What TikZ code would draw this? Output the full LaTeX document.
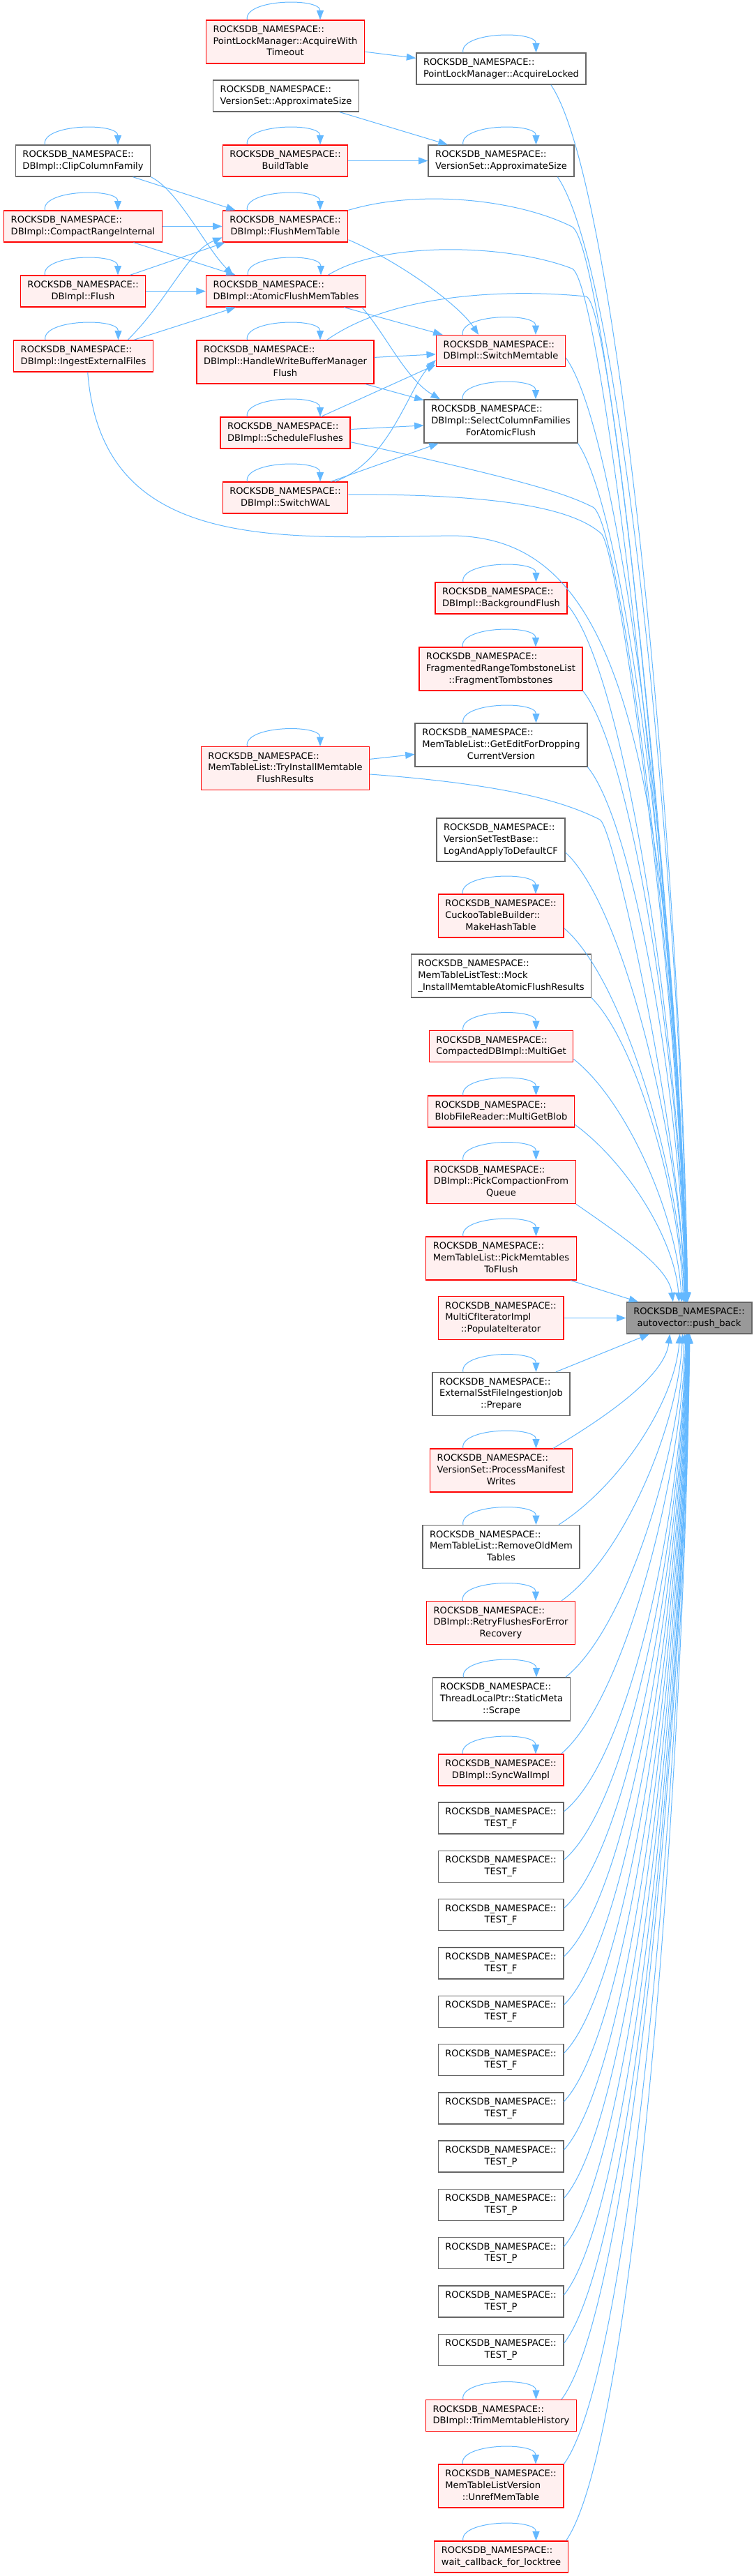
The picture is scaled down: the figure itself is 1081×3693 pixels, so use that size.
\documentclass[tikz,border=0pt]{standalone}
\usepackage{fontspec}
\setmainfont{DejaVu Sans}
\usetikzlibrary{arrows.meta}

\definecolor{edgeblue}{HTML}{63B8FF}
\definecolor{redfill}{HTML}{FFF0F0}
\definecolor{greyline}{HTML}{666666}
\definecolor{rootfill}{HTML}{999999}

\newcommand{\fnlabel}[2]{\begin{tabular}{@{}l@{}}ROCKSDB\_NAMESPACE::\\#1\multicolumn{1}{@{}c@{}}{#2}\end{tabular}}

\begin{document}
\begin{tikzpicture}[x=0.75pt, y=-0.75pt, every node/.style={font=\fontsize{9.8}{12.5}\selectfont}, >={Triangle[length=10pt, width=7.5pt]}, fnbox/.style={draw=greyline, fill=white, line width=1pt, inner xsep=7.6pt, inner ysep=3pt, minimum height=33.75pt}, truncbox/.style={fnbox, draw=red, fill=redfill}, rootbox/.style={fnbox, fill=rootfill}, tallbox/.style={minimum height=46.5pt}, call/.style={->, draw=edgeblue, line width=0.75pt}, selfloop/.style={to path={.. controls +(-5,-30) and +(0,-32) .. (\tikztotarget)}}]
	\fill[white] (0,0) rectangle (1081,3693);
	\useasboundingbox (0,0) rectangle (1081,3693);
	\node[truncbox, tallbox] (awt) at (409,60) {\fnlabel{PointLockManager::AcquireWith\\}{Timeout}};
	\node[fnbox] (alk) at (718.5,98.5) {\fnlabel{}{PointLockManager::AcquireLocked}};
	\node[fnbox] (as1) at (410,137.5) {\fnlabel{}{VersionSet::ApproximateSize}};
	\node[fnbox] (ccf) at (119,230.5) {\fnlabel{}{DBImpl::ClipColumnFamily}};
	\node[truncbox] (bt) at (409,230.5) {\fnlabel{}{BuildTable}};
	\node[fnbox] (as2) at (718.5,230.5) {\fnlabel{}{VersionSet::ApproximateSize}};
	\node[truncbox] (cri) at (119,324.5) {\fnlabel{}{DBImpl::CompactRangeInternal}};
	\node[truncbox] (fmt) at (409,324.5) {\fnlabel{}{DBImpl::FlushMemTable}};
	\node[truncbox] (fl) at (119,417.5) {\fnlabel{}{DBImpl::Flush}};
	\node[truncbox] (afmt) at (410,417.5) {\fnlabel{}{DBImpl::AtomicFlushMemTables}};
	\node[truncbox] (ief) at (119.5,510.5) {\fnlabel{}{DBImpl::IngestExternalFiles}};
	\node[truncbox, tallbox] (hwb) at (409,519) {\fnlabel{DBImpl::HandleWriteBufferManager\\}{Flush}};
	\node[truncbox] (swm) at (718,503) {\fnlabel{}{DBImpl::SwitchMemtable}};
	\node[fnbox, tallbox] (scf) at (718,604) {\fnlabel{DBImpl::SelectColumnFamilies\\}{ForAtomicFlush}};
	\node[truncbox] (sf) at (409,620.5) {\fnlabel{}{DBImpl::ScheduleFlushes}};
	\node[truncbox] (sw) at (409,713.5) {\fnlabel{}{DBImpl::SwitchWAL}};
	\node[truncbox] (bf) at (718.5,857.5) {\fnlabel{}{DBImpl::BackgroundFlush}};
	\node[truncbox, tallbox] (ft) at (718,959) {\fnlabel{FragmentedRangeTombstoneList\\}{::FragmentTombstones}};
	\node[fnbox, tallbox] (ged) at (718.5,1068) {\fnlabel{MemTableList::GetEditForDropping\\}{CurrentVersion}};
	\node[truncbox, tallbox] (tim) at (409,1101.5) {\fnlabel{MemTableList::TryInstallMemtable\\}{FlushResults}};
	\node[fnbox, tallbox] (laa) at (718,1204) {\fnlabel{VersionSetTestBase::\\}{LogAndApplyToDefaultCF}};
	\node[truncbox, tallbox] (mht) at (718,1313) {\fnlabel{CuckooTableBuilder::\\}{MakeHashTable}};
	\node[fnbox, tallbox] (mck) at (718.5,1399) {\fnlabel{MemTableListTest::Mock\\}{\_InstallMemtableAtomicFlushResults}};
	\node[truncbox] (mg) at (718.5,1500) {\fnlabel{}{CompactedDBImpl::MultiGet}};
	\node[truncbox] (mgb) at (718.5,1593.5) {\fnlabel{}{BlobFileReader::MultiGetBlob}};
	\node[truncbox, tallbox] (pcq) at (718.5,1694.5) {\fnlabel{DBImpl::PickCompactionFrom\\}{Queue}};
	\node[truncbox, tallbox] (pmf) at (718.5,1804) {\fnlabel{MemTableList::PickMemtables\\}{ToFlush}};
	\node[truncbox, tallbox] (pit) at (718,1889.5) {\fnlabel{MultiCfIteratorImpl\\}{::PopulateIterator}};
	\node[rootbox] (pb) at (988,1889.5) {\fnlabel{}{autovector::push\_back}};
	\node[fnbox, tallbox] (prp) at (718.5,1998.5) {\fnlabel{ExternalSstFileIngestionJob\\}{::Prepare}};
	\node[truncbox, tallbox] (pmw) at (718.5,2108) {\fnlabel{VersionSet::ProcessManifest\\}{Writes}};
	\node[fnbox, tallbox] (rom) at (718.5,2217.5) {\fnlabel{MemTableList::RemoveOldMem\\}{Tables}};
	\node[truncbox, tallbox] (rfe) at (718,2326.5) {\fnlabel{DBImpl::RetryFlushesForError\\}{Recovery}};
	\node[fnbox, tallbox] (scr) at (719,2436) {\fnlabel{ThreadLocalPtr::StaticMeta\\}{::Scrape}};
	\node[truncbox] (swi) at (718,2537.5) {\fnlabel{}{DBImpl::SyncWalImpl}};
	\node[fnbox] (tf1) at (718,2606.5) {\fnlabel{}{TEST\_F}};
	\node[fnbox] (tf2) at (718,2675.8) {\fnlabel{}{TEST\_F}};
	\node[fnbox] (tf3) at (718,2745.1) {\fnlabel{}{TEST\_F}};
	\node[fnbox] (tf4) at (718,2814.4) {\fnlabel{}{TEST\_F}};
	\node[fnbox] (tf5) at (718,2883.7) {\fnlabel{}{TEST\_F}};
	\node[fnbox] (tf6) at (718,2953.0) {\fnlabel{}{TEST\_F}};
	\node[fnbox] (tf7) at (718,3022.3) {\fnlabel{}{TEST\_F}};
	\node[fnbox] (tp1) at (718,3091.6) {\fnlabel{}{TEST\_P}};
	\node[fnbox] (tp2) at (718,3160.9) {\fnlabel{}{TEST\_P}};
	\node[fnbox] (tp3) at (718,3230.2) {\fnlabel{}{TEST\_P}};
	\node[fnbox] (tp4) at (718,3299.5) {\fnlabel{}{TEST\_P}};
	\node[fnbox] (tp5) at (718,3368.8) {\fnlabel{}{TEST\_P}};
	\node[truncbox] (tmh) at (718.5,3463) {\fnlabel{}{DBImpl::TrimMemtableHistory}};
	\node[truncbox, tallbox] (umt) at (718,3564) {\fnlabel{MemTableListVersion\\}{::UnrefMemTable}};
	\node[truncbox] (wcb) at (718.5,3665.5) {\fnlabel{}{wait\_callback\_for\_locktree}};
	% self calls
	\draw[call] ([xshift=-41pt]awt.north) to[selfloop] ([xshift=37.5pt]awt.north);
	\draw[call] ([xshift=-41pt]alk.north) to[selfloop] ([xshift=37.5pt]alk.north);
	\draw[call] ([xshift=-41pt]ccf.north) to[selfloop] ([xshift=37.5pt]ccf.north);
	\draw[call] ([xshift=-41pt]bt.north) to[selfloop] ([xshift=37.5pt]bt.north);
	\draw[call] ([xshift=-41pt]as2.north) to[selfloop] ([xshift=37.5pt]as2.north);
	\draw[call] ([xshift=-41pt]cri.north) to[selfloop] ([xshift=37.5pt]cri.north);
	\draw[call] ([xshift=-41pt]fmt.north) to[selfloop] ([xshift=37.5pt]fmt.north);
	\draw[call] ([xshift=-41pt]fl.north) to[selfloop] ([xshift=37.5pt]fl.north);
	\draw[call] ([xshift=-41pt]afmt.north) to[selfloop] ([xshift=37.5pt]afmt.north);
	\draw[call] ([xshift=-41pt]ief.north) to[selfloop] ([xshift=37.5pt]ief.north);
	\draw[call] ([xshift=-41pt]hwb.north) to[selfloop] ([xshift=37.5pt]hwb.north);
	\draw[call] ([xshift=-41pt]swm.north) to[selfloop] ([xshift=37.5pt]swm.north);
	\draw[call] ([xshift=-41pt]scf.north) to[selfloop] ([xshift=37.5pt]scf.north);
	\draw[call] ([xshift=-41pt]sf.north) to[selfloop] ([xshift=37.5pt]sf.north);
	\draw[call] ([xshift=-41pt]sw.north) to[selfloop] ([xshift=37.5pt]sw.north);
	\draw[call] ([xshift=-41pt]bf.north) to[selfloop] ([xshift=37.5pt]bf.north);
	\draw[call] ([xshift=-41pt]ft.north) to[selfloop] ([xshift=37.5pt]ft.north);
	\draw[call] ([xshift=-41pt]ged.north) to[selfloop] ([xshift=37.5pt]ged.north);
	\draw[call] ([xshift=-41pt]tim.north) to[selfloop] ([xshift=37.5pt]tim.north);
	\draw[call] ([xshift=-41pt]mht.north) to[selfloop] ([xshift=37.5pt]mht.north);
	\draw[call] ([xshift=-41pt]mg.north) to[selfloop] ([xshift=37.5pt]mg.north);
	\draw[call] ([xshift=-41pt]mgb.north) to[selfloop] ([xshift=37.5pt]mgb.north);
	\draw[call] ([xshift=-41pt]pcq.north) to[selfloop] ([xshift=37.5pt]pcq.north);
	\draw[call] ([xshift=-41pt]pmf.north) to[selfloop] ([xshift=37.5pt]pmf.north);
	\draw[call] ([xshift=-41pt]prp.north) to[selfloop] ([xshift=37.5pt]prp.north);
	\draw[call] ([xshift=-41pt]pmw.north) to[selfloop] ([xshift=37.5pt]pmw.north);
	\draw[call] ([xshift=-41pt]rom.north) to[selfloop] ([xshift=37.5pt]rom.north);
	\draw[call] ([xshift=-41pt]rfe.north) to[selfloop] ([xshift=37.5pt]rfe.north);
	\draw[call] ([xshift=-41pt]scr.north) to[selfloop] ([xshift=37.5pt]scr.north);
	\draw[call] ([xshift=-41pt]swi.north) to[selfloop] ([xshift=37.5pt]swi.north);
	\draw[call] ([xshift=-41pt]tmh.north) to[selfloop] ([xshift=37.5pt]tmh.north);
	\draw[call] ([xshift=-41pt]umt.north) to[selfloop] ([xshift=37.5pt]umt.north);
	\draw[call] ([xshift=-41pt]wcb.north) to[selfloop] ([xshift=37.5pt]wcb.north);
	% calls between callers
	\draw[call] (awt) -- (alk);
	\draw[call] (as1) -- (as2);
	\draw[call] (bt) -- (as2);
	\draw[call] (ccf) -- (fmt);
	\draw[call] (ccf.south east) .. controls +(40,20) and +(-40,-40) .. (afmt.163);
	\draw[call] (cri) -- (fmt);
	\draw[call] (cri) -- (afmt);
	\draw[call] (fl) -- (fmt.-165);
	\draw[call] (fl) -- (afmt);
	\draw[call] (ief.20) .. controls +(60,-60) and +(-50,20) .. (fmt.-170);
	\draw[call] (ief) -- (afmt);
	\draw[call] (fmt.-12) .. controls +(70,30) and +(-30,-45) .. (swm.144);
	\draw[call] (afmt) -- (swm);
	\draw[call] (afmt.-12) .. controls +(35,40) and +(-50,-30) .. (scf.160);
	\draw[call] (hwb) -- (swm);
	\draw[call] (hwb) -- (scf);
	\draw[call] (sf) -- (swm.-168);
	\draw[call] (sf) -- (scf);
	\draw[call] (sw.18) .. controls +(80,-30) and +(-40,40) .. (swm.-172);
	\draw[call] (sw) -- (scf);
	\draw[call] (tim) -- (ged);
	% calls into push_back from above
	\draw[call] (alk.-18) .. controls +(99,145) and +(-8,-611) .. (pb.95);
	\draw[call] (as2.-16) .. controls +(95,137) and +(-8,-565) .. (pb.96);
	\draw[call] (fmt.north east) .. controls +(100,-30) and +(-80,-40) .. (820,325) .. controls +(50,25) and +(-10,-500) .. (pb.96);
	\draw[call] (afmt.21) .. controls +(80,-50) and +(-90,-35) .. (820,385) .. controls +(45,17) and +(-10,-480) .. (pb.97);
	\draw[call] (hwb.28) .. controls +(100,-70) and +(-100,-10) .. (840,425) .. controls +(40,4) and +(-10,-450) .. (pb.98);
	\draw[call] (ief.-75) .. controls +(20,260) and +(-250,3) .. (650,768) .. controls +(200,4) and +(-20,-900) .. (pb.99);
	\draw[call] (sf.-8) .. controls +(250,55) and +(-40,-20) .. (850,727) .. controls +(40,20) and +(-8,-450) .. (pb.100);
	\draw[call] (sw.3) .. controls +(200,0) and +(-45,-40) .. (862,765) .. controls +(25,22) and +(-8,-450) .. (pb.101);
	\draw[call] (tim.-4) .. controls +(200,15) and +(-50,-25) .. (860,1175) .. controls +(20,10) and +(-8,-250) .. (pb.103);
	\draw[call] (swm.-6) .. controls +(87,121) and +(-7,-474) .. (pb.98);
	\draw[call] (scf.south east) .. controls +(77,114) and +(-6,-431) .. (pb.99);
	\draw[call] (bf.-6) .. controls +(85,100) and +(-7,-350) .. (pb.100);
	\draw[call] (ft.south east) .. controls +(74,93) and +(-6,-307) .. (pb.101);
	\draw[call] (ged.south east) .. controls +(70,86) and +(-6,-269) .. (pb.102);
	\draw[call] (laa.-11) .. controls +(85,79) and +(-7,-226) .. (pb.104);
	\draw[call] (mht.-11) .. controls +(85,72) and +(-7,-188) .. (pb.106);
	\draw[call] (mck.south east) .. controls +(65,66) and +(-5,-153) .. (pb.110);
	\draw[call] (mg.-10) .. controls +(77,61) and +(-6,-122) .. (pb.115);
	\draw[call] (mgb.-10) .. controls +(75,55) and +(-6,-89) .. (pb.122);
	\draw[call] (pcq.south east) .. controls +(69,48) and +(-6,-49) .. (pb.135);
	\draw[call] (pmf) -- (pb);
	\draw[call] (pit) -- (pb);
	% calls into push_back from below
	\draw[call] (prp) -- (pb);
	\draw[call] (pmw.23) .. controls +(84,-50) and +(-7,58) .. (pb.-140);
	\draw[call] (rom.21) .. controls +(88,-56) and +(-7,96) .. (pb.-120);
	\draw[call] (rfe.20) .. controls +(88,-63) and +(-7,134) .. (pb.-112);
	\draw[call] (scr.19) .. controls +(87,-70) and +(-7,173) .. (pb.-106);
	\draw[call] (swi.15) .. controls +(90,-76) and +(-7,211) .. (pb.-102);
	\draw[call] (tf1.6) .. controls +(100,-81) and +(-7,240) .. (pb.-100);
	\draw[call] (tf2.6) .. controls +(100,-85) and +(-7,264) .. (pb.-99);
	\draw[call] (tf3.6) .. controls +(100,-89) and +(-7,288) .. (pb.-98);
	\draw[call] (tf4.6) .. controls +(100,-94) and +(-7,313) .. (pb.-97);
	\draw[call] (tf5.6) .. controls +(100,-98) and +(-7,337) .. (pb.-96);
	\draw[call] (tf6.6) .. controls +(100,-102) and +(-7,361) .. (pb.-95);
	\draw[call] (tf7.6) .. controls +(100,-106) and +(-7,385) .. (pb.-94);
	\draw[call] (tp1.6) .. controls +(100,-110) and +(-7,410) .. (pb.-93);
	\draw[call] (tp2.6) .. controls +(100,-114) and +(-7,434) .. (pb.-92);
	\draw[call] (tp3.6) .. controls +(100,-119) and +(-7,458) .. (pb.-91);
	\draw[call] (tp4.6) .. controls +(100,-123) and +(-7,482) .. (pb.-90);
	\draw[call] (tp5.6) .. controls +(100,-127) and +(-7,506) .. (pb.-90);
	\draw[call] (tmh.15) .. controls +(100,-132) and +(-7,535) .. (pb.-89);
	\draw[call] (umt.north east) .. controls +(100,-137) and +(-7,567) .. (pb.-88);
	\draw[call] (wcb.14) .. controls +(100,-144) and +(-7,606) .. (pb.-88);
\end{tikzpicture}
\end{document}
